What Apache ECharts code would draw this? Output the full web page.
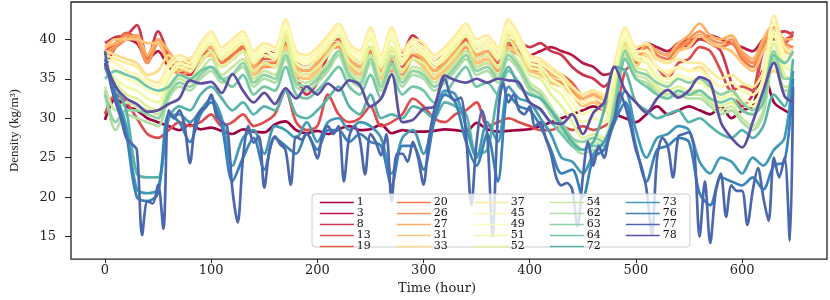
<!DOCTYPE html>
<html><head><meta charset="utf-8">
<script src="https://cdn.jsdelivr.net/npm/echarts@6/dist/echarts.min.js"></script>
<style>html,body{margin:0;padding:0;background:#fff}#c{width:830px;height:300px}</style>
</head><body><div id="c"></div>
<script>
const tCoarse = [0,10,20,30,40,50,60,70,80,90,100,110,120,130,140,150,160,170,180,190,200,210,220,230,240,250,260,270,280,290,300,310,320,330,340,350,360,370,380,390,400,410,420,430,440,450,460,470,480,490,500,510,520,530,540,550,560,570,580,590,600,610,620,630,640,648];
const tFine = [0,5,10,15,20,25,30,35,40,45,50,55,60,65,70,75,80,85,90,95,100,105,110,115,120,125,130,135,140,145,150,155,160,165,170,175,180,185,190,195,200,205,210,215,220,225,230,235,240,245,250,255,260,265,270,275,280,285,290,295,300,305,310,315,320,325,330,335,340,345,350,355,360,365,370,375,380,385,390,395,400,405,410,415,420,425,430,435,440,445,450,455,460,465,470,475,480,485,490,495,500,505,510,515,520,525,530,535,540,545,550,555,560,565,570,575,580,585,590,595,600,605,610,615,620,625,630,635,640,645,648];

const seriesNames = ['1','3','8','13','19','20','26','27','31','33','37','45','49','51','52','54','62','63','64','72','73','76','77','78'];
const seriesColors = ['#9e0142','#b61c48','#ce364d','#de4c4b','#ec6146','#f67848','#f99555','#fdb063','#fec675','#fedc87','#feeb9d','#fff8b4','#fafdb7','#eff9a6','#e1f399','#c7e89e','#aedea4','#90d2a4','#72c7a5','#59b3ab','#429ab6','#3881b9','#4b68ae','#5e4fa2'];

const s1 = [29.8,32.5,31.5,31,30,29.5,29,28.5,29.2,28.6, 28.8,28.4,28,28.6,28.3,28.2,29.2,29.6,28.5,28.1, 28.4,28,28.6,29,28.5,28.6,29.2,28.1,28.5,28.3, 28.3,28.4,28.6,28.5,28.3,29.4,28.6,28.3,28.4,28.5, 28.6,29,29.5,30,30.5,31,31.5,31,30.5,30, 29.5,30.5,31.5,30.5,31,31.5,31,30.5,31.5,30, 31,31.5,36,32,31,30.5];
const s3 = [36.5,39,40,39.5,37.5,38.5,36.5,36,36.5,38, 38.5,37.5,38.5,39,36.5,38,38.5,39.5,37,36.5, 37.5,39,39.5,38,37,39,36.5,37.5,38.5,39, 38.5,37.5,38,39,39.5,39,39.5,38.5,39,38.5, 38,38.5,39,38.5,38,37,36.5,35.5,36,38.5, 38.5,39.5,39,38.5,39.5,40,40,40.5,40,39.5, 39,38.5,40,41,40,40.5];
const s8 = [39.5,40.3,40.5,41.8,37.5,41,38,36,35.5,37, 38.5,37.5,37.5,39,36,37,36.5,39,35.5,33, 34.5,38,39.5,36.5,35.5,38.5,35.5,37,38,40.5, 39,36.5,37,38.5,40,38,38.5,37.5,39,39.5, 39,39.5,38.5,38,36.5,35.5,35,34,36,39.5, 38.5,39.5,38.5,38,39.5,39,40,39.5,38.5,34.5, 31.5,33,39,40.5,41,40.5];
const s13 = [30.5,33,32,30,28,27.5,28.5,29.5,29,29.5, 30.5,29,29.5,30.5,29,29.5,30.5,33.5,29.5,28.5, 29,33,30.5,29.5,30,31.5,29,29.5,30.5,32.5, 31.5,30,29.5,30.5,31,32,29,29.5,30,29.5, 29,28.5,28.5,29,28.5,29,28.5,29,30,36, 37,38,36.5,35,37,37.5,39,38.5,36,33.5, 34,33.5,38.5,40,39.5,41];
const s19 = [38.5,39.5,40.8,40,37,39.5,37.5,36.5,37.5,38.5, 39,37.5,38,39.5,36.5,37.5,37.5,40,36.5,36, 37,39.5,40,37.5,36.5,39,36,37,36.5,38.5, 37.5,36,37,38.5,40,37.5,38,37,39.5,39, 37,37,36,35.5,34.5,33,33.5,32.5,35.5,39, 37.5,39.5,38.5,38,39.5,39.5,40.5,39.5,39,39.5, 38,37,39.5,41,39.5,39];
const s20 = [38,39,40,40.5,37.5,40,37.5,36,36.5,38, 38.5,37,38,39,36,37,37,39.5,36,35.5, 36.5,39,39.5,37,36,38.5,35.5,36.5,36,38, 37,35.5,36.5,38,39.5,37,37.5,36.5,39,38.5, 36.5,36.5,35.5,35,34,32.5,33,32,35,38.5, 37,39,38,37.5,39,39.5,40.5,39.5,39,39.5, 37.5,36.5,39,40.5,39,38.5];
const s26 = [37.5,39,40.5,40,37,39.5,37,35.5,36,37.5, 38,36.5,37.5,38.5,35.5,36.5,36.5,40,35.5,35, 36,38.5,39,36.5,35.5,38,35,36,35.5,37.5, 36.5,35,36,37.5,39,36.5,37,36,38.5,38, 36,36,35,34.5,33.5,32,32.5,31.5,34.5,38, 36.5,38.5,37.5,37,38.5,40,41,40,39.5,40, 38,37,39.5,41.5,39.5,39];
const s27 = [39,39.5,40,40.5,38,40,38.5,37,37.5,38.5, 39,37.5,38.5,39.5,36.5,38,37.5,40.5,36.5,36, 37,39.5,40.5,37.5,36.5,39,36,37.5,37,38.5, 37.5,36,37,38.5,40.5,38,38.5,37.5,40,39, 37,36.5,35.5,35,34,32.5,33,32,35.5,39, 37.5,39.5,38.5,38,39.5,40.5,42,40.5,40,40.5, 38.5,37.5,40,42,40,40];
const s31 = [39,40,40,40,39.5,39.5,37,36,36.5,37.5, 38,36.5,37.5,38.5,35.5,37,36.5,39,35.5,35, 36,38.5,39.5,36.5,35.5,38,35,36.5,36,37.5, 36.5,35,36,37.5,39.5,37,37.5,36.5,39,38, 36,35.5,34.5,34,33,31.5,32,31,34.5,38, 36.5,38.5,37.5,37,38.5,39,40.5,39.5,39,38.5, 37,36,38.5,40.5,38.5,38];
const s33 = [38.5,38,37.5,37,35.5,36,38,36.5,37,38.5, 39.5,38,39,40,37.5,38.5,38,40.5,37.5,37, 38,39.5,40.5,38,37.5,40,37,38.5,37.5,39, 38.5,37,38,39.5,41,39,39.5,38,40.5,40, 37.5,37,36,35,34,33,33.5,32.5,36,39.5, 37.5,38,36.5,35.5,36.5,36,36.5,35,34,34.5, 33.5,33,34.5,36,35,35];
const s37 = [38,37.5,37,36.5,35,34.5,37,38,37.5,39.5, 41,39,40,41,38.5,39.5,39,42.5,38.5,38, 39,40.5,42,39.5,38.5,41.5,38,41.5,38.5,40, 39.5,38,39,40.5,42,40,40.5,39,42.5,40.5, 38,37.5,36.5,35.5,34,33,33.5,33,37,41.5, 39,39.5,37.5,37,37.5,37,37,36,35,35.5, 34.5,34,36,43,39,38.5];
const s45 = [37.5,37,36,35.5,34.5,34,36.5,37.5,37,39, 40.5,38.5,39.5,40.5,38,39,38.5,42,38,37.5, 38.5,40,41.5,39,38,41,37.5,41,38,39.5, 39,37.5,38.5,40,41.5,39.5,40,38.5,42,40, 37.5,37,36,35,33,32,32.5,32,36,41, 38.5,38.5,36.5,36,36.5,36,36,35,34,34.5, 33.5,33,35,42,38,37.5];
const s49 = [37,36,35,34.5,33.5,33,35.5,37,36.5,38.5, 40,38,39,40,37.5,38.5,38,41.5,37.5,37, 38,39.5,41,38.5,37.5,40.5,37,40.5,37.5,39, 38.5,37,38,39.5,41,39,39.5,38,41.5,39.5, 37,36.5,35,34,32,30.5,31,30.5,35,40.5, 38,37.5,35.5,35,35.5,35,35,34,33,33.5, 32.5,32,34,41,37,36.5];
const s51 = [36.5,35,34,33.5,32.5,32,35,36.5,36,38, 39.5,37.5,38.5,39.5,37,38,37.5,41,37,36.5, 37.5,39,40.5,38,37,40,36.5,40,37,38.5, 38,36.5,37.5,39,40.5,38.5,39,37.5,41,39, 36.5,36,34,33,31,29.5,30,29.5,34.5,40, 37.5,37,35,34.5,35,34.5,34.5,33.5,32.5,33, 32,31.5,33.5,40.5,36.5,36];
const s52 = [36,34.5,33,32.5,31.5,31,34,35.5,35,37, 38.5,36.5,37.5,38.5,36,37,36.5,40,36,35.5, 36.5,38,39.5,37,36,39,35.5,39,36,37.5, 37,35.5,36.5,38,39.5,37.5,38,36.5,40,38, 35.5,35,33,31.5,29.5,27.5,28,27.5,33.5,39, 36.5,36,34,33.5,34,33.5,33.5,32.5,31.5,32, 31,30.5,32.5,39.5,35.5,35];
const s54 = [34,31,32,31.5,31,30.5,33.5,35,34.5,36, 37.5,35.5,36.5,37.5,35,36,35.5,38.5,35,34.5, 35.5,37,38.5,36,35,38,34.5,38,35,36.5, 36,34.5,35.5,37,38.5,36.5,37,35.5,38.5,37, 34.5,33.5,31.5,29.5,27.5,26,27,26.5,32,38, 35.5,35,33.5,33,33.5,33,33,32,31,31.5, 30,29,31,38,34,34];
const s62 = [33.5,28.5,30.5,30,29.5,29,32.5,34,33.5,35, 36,34.5,35.5,36.5,34,35,34.5,37.5,34,33.5, 34.5,36,38,35,34,37,33.5,36.5,34,35.5, 35,33.5,34.5,36,37.5,35.5,36,34.5,37.5,36, 33.5,32.5,30.5,28.5,26.5,25.5,26,26,31,37.5, 35,34.5,33,32.5,33,32.5,32.5,31.5,30.5,31, 29.5,28.5,30.5,37.5,33.5,33.5];
const s63 = [33,29.5,31,31,30.5,30,33,34.5,34,35.5, 36.5,35,35.5,37,34.5,35.5,35,38,34.5,34, 35,36.5,38.5,35.5,34.5,37.5,34,37,34.5,36, 35.5,34,35,36.5,38,36,36.5,35,38,36.5, 34,33,31,29.5,27.5,27,27.5,27,32,38.5, 36,35.5,34.5,34,35,34.5,35,34,33,33.5, 32,31,33,38.5,35,35];
const s64 = [35,36,35.5,35,34,33.5,34,35.5,35,36, 36.5,35,34,35.5,33,34,33.5,36.5,33,32.5, 33.5,35,36.5,34,33,35.5,32.5,35.5,33,34, 33.5,32,33,35,36.5,34,34.5,33,36,34.5, 32,31,29.5,28,26.5,26,26.5,26.5,31,37.5, 35,34,33,32.5,33.5,33,33.5,32.5,32,32.5, 31,30.5,32,38,37,38.5];
const s72 = [37,34,31,23,22.5,22.5,30,31.5,31,33, 34,32.5,31,32,30.5,31.5,31,33.5,30.5,30, 31,32.5,34,31.5,30.5,33,30,30.5,30,31.5, 31,30,32,31.5,30.5,25.5,26,33,36.5,34, 33,32.5,31,29,27,26,27,31,36.5,36, 32,31,30,30.5,31,29.5,30,29,28,27.5, 28.5,27.5,29,33,31.5,37.5];
const s73 = [36.5,33,29,21,20.5,21,30,30.5,29.5,31, 32.5,30,24,27.5,28.5,25.5,29,28.5,27.5,29.5, 27,29.5,30,28.5,29.5,29,27.5,23,27.5,28.5, 25.5,30,33.5,33,29,25,29.5,27,34,32.5, 32,30,28,25,24.5,23,25.5,27,30,33.5, 28.5,25,27.5,28,29,28.5,24.5,23,25,24.5, 23,25,24,26,27.5,36];
const s76 = [37.5,33,28,20,19.5,20.5,30.5,29.5,27,30.5, 32,29,22,25,27.5,23.5,27.5,26.5,25.5,28, 26,28.5,28.5,27,28,27,26.5,21.5,26.5,26.5, 23.5,29.5,33,32,27,24,28,22,33,31.5, 31,29,26,23,23.5,20,25,26,29.5,32, 26.5,22,26,26.5,27.5,27,20.5,19,22.5,22, 21.5,22.5,21,24,24.5,35];
const s77 = [38.5,34.5,32,30,27.5,26.8,26,15.2,19.5,19.2, 21.6,16,31,30,31,29,24.3,29.5,31,31.4, 33,30.3,29.5,29,21,16.8,25,29,26.9,27.7, 21.2,26,27.7,26.7,26,21.6,27.7,27.3,28.1,26.9, 24.9,28,29,28,29,22,27.7,29,27.3,22.9, 28,27,25.3,28,19.5,25.5,25.5,24.5,27,24.9, 21.6,27.3,31,33.5,35,33,32.3,32.6,28,19, 27,31,28,15,30,34.5,32,33,31,30.5, 31.5,29,29.5,27.5,25.5,22.5,21.5,21.8,21,16.3, 22.5,27,24,26.5,25,28,30,33.2,31.5,29, 26,24,21,15.2,25,27.5,26.5,22.5,27.7,28, 28.2,26,15,22,14.2,20.5,23,17.5,21.5,20.8, 20.8,16.5,20.8,23.7,20,17,25,22.5,25,14.5, 34];
const s78 = [37,34,32.5,31.8,30.8,31,31.8,32.5,34.8,34.4, 34.6,33.2,35.6,33.5,32,33.2,31.8,33.8,32.5,34, 33,34.4,33.5,34.8,34.2,31.5,32.5,35.6,29.5,29.8, 31.2,31.5,35.4,34.8,34.5,35,34.5,35,34.8,34.5, 32,31.2,29.5,29.3,30.5,28,30.7,32,36.5,33.5, 32,30.7,32.5,33.6,32.6,33.5,35.2,34.5,29.5,27.5, 26.3,29.5,33.5,37,32.8,32];

const seriesValues = [s1,s3,s8,s13,s19,s20,s26,s27,s31,s33,s37,s45,s49,s51,s52,s54,s62,s63,s64,s72,s73,s76,s77,s78];
const seriesTimes = seriesValues.map(v => v.length === tFine.length ? tFine : tCoarse);

const xTicks = [0,100,200,300,400,500,600];
const yTicks = [15,20,25,30,35,40];
const xTitle = 'Time (hour)';
const yTitle = 'Density (kg/m³)';

const FONT = 'DejaVu Serif';
const chart = echarts.init(document.getElementById('c'), null, {renderer: 'canvas'});

const series = seriesNames.map((n, k) => ({
  type: 'line',
  name: n,
  data: seriesTimes[k].map((t, i) => [t, seriesValues[k][i]]),
  smooth: 0.3,
  symbol: 'none',
  lineStyle: {width: 2.7, color: seriesColors[k]},
  itemStyle: {color: seriesColors[k]},
  emphasis: {disabled: true},
  z: 2
}));

const cols = [seriesNames.slice(0,5), seriesNames.slice(5,10), seriesNames.slice(10,15), seriesNames.slice(15,20), seriesNames.slice(20,24)];
const colLeft = [319, 396, 473, 549, 625];
const legends = cols.map((names, c) => ({
  show: true,
  orient: 'vertical',
  left: colLeft[c],
  top: 197,
  padding: 0,
  itemGap: 0,
  itemWidth: 34,
  itemHeight: 9,
  data: names,
  z: 10,
  selectedMode: false,
  itemStyle: {opacity: 0, borderWidth: 0},
  lineStyle: {width: 1.6},
  textStyle: {fontFamily: FONT, fontSize: 11, lineHeight: 9, color: '#111', padding: [0,0,0,-2]}
}));

chart.setOption({
  animation: false,
  backgroundColor: '#ffffff',
  textStyle: {fontFamily: FONT},
  grid: {left: 69, right: 3, top: 2, bottom: 31, show: true, borderColor: '#222', borderWidth: 1.3, backgroundColor: 'transparent'},
  xAxis: {
    type: 'value', min: -32, max: 680,
    axisLine: {show: false, onZero: false},
    splitLine: {show: false},
    axisTick: {show: true, length: 4, customValues: xTicks, lineStyle: {color: '#222', width: 1}},
    axisLabel: {customValues: xTicks, fontFamily: FONT, fontSize: 13, lineHeight: 13, color: '#222', margin: 5},
    name: xTitle, nameLocation: 'middle', nameGap: 17,
    nameTextStyle: {fontFamily: FONT, fontSize: 13, lineHeight: 13, color: '#222', padding: [0, 24, 0, 0]}
  },
  yAxis: {
    type: 'value', min: 12.16, max: 44.72,
    axisLine: {show: false, onZero: false},
    splitLine: {show: false},
    axisTick: {show: true, length: 6, customValues: yTicks, lineStyle: {color: '#222', width: 1}},
    axisLabel: {customValues: yTicks, fontFamily: FONT, fontSize: 13, color: '#222', margin: 15},
    name: yTitle, nameLocation: 'middle', nameGap: 50, nameRotate: 90,
    nameTextStyle: {fontFamily: 'Liberation Serif', fontSize: 13, lineHeight: 13, color: '#222'}
  },
  legend: legends,
  graphic: {elements: [{
    type: 'rect', z: 5,
    shape: {x: 312, y: 194, width: 378, height: 53, r: 3},
    style: {fill: 'rgba(255,255,255,0.8)', stroke: '#cccccc', lineWidth: 1}
  }]},
  series: series
});
</script>
</body></html>
